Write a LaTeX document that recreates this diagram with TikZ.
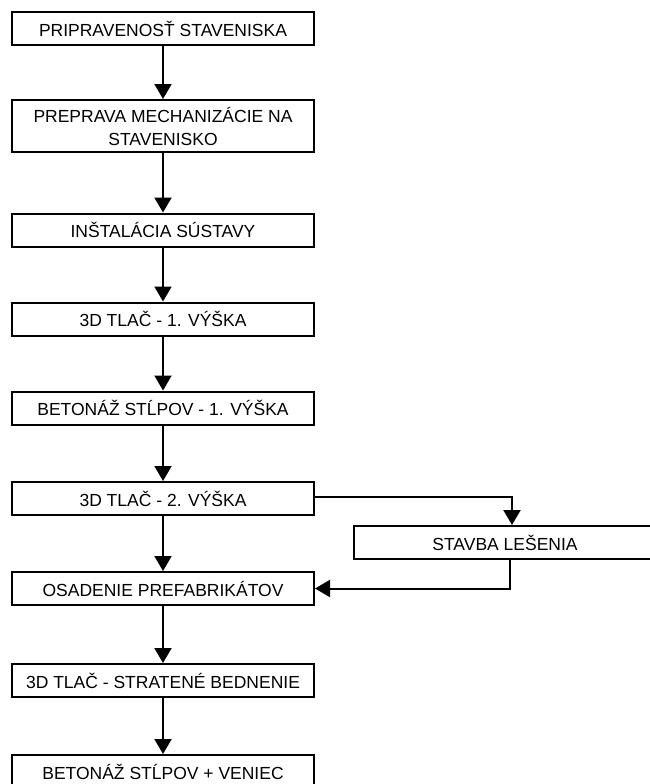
\documentclass[tikz,border=0pt]{standalone}
\usepackage{fontspec}
\setmainfont{Liberation Sans}
\usetikzlibrary{arrows.meta}

\begin{document}
\begin{tikzpicture}[x=1pt, y=-1pt,
	box/.style={draw=black, line width=2pt, fill=white, minimum width=302pt, minimum height=33pt, inner sep=0pt, align=center, font=\fontsize{17.5}{23}\selectfont},
	arr/.style={line width=2pt, -{Triangle[length=15pt, width=17pt]}}]
	\useasboundingbox (0,0) rectangle (649,784);
	\node[box] (pripravenost) at ( 163 , 29 ) {PRIPRAVENOSŤ STAVENISKA};
	\node[box, minimum height=52pt] (preprava) at ( 163 , 126 ) {PREPRAVA MECHANIZÁCIE NA\\STAVENISKO};
	\node[box] (instalacia) at ( 163 , 230 ) {INŠTALÁCIA SÚSTAVY};
	\node[box] (tlac1) at ( 163 , 319 ) {3D TLAČ - 1. VÝŠKA};
	\node[box] (betonaz1) at ( 163 , 408 ) {BETONÁŽ STĹPOV - 1. VÝŠKA};
	\node[box] (tlac2) at ( 163 , 498.5 ) {3D TLAČ - 2. VÝŠKA};
	\node[box] (lesenie) at ( 505 , 542.5 ) {STAVBA LEŠENIA};
	\node[box] (osadenie) at ( 163 , 588.5 ) {OSADENIE PREFABRIKÁTOV};
	\node[box] (tlac3) at ( 163 , 680.5 ) {3D TLAČ - STRATENÉ BEDNENIE};
	\node[box] (veniec) at ( 163 , 771.5 ) {BETONÁŽ STĹPOV + VENIEC};
	
	\draw[arr] (pripravenost) -- (preprava);
	\draw[arr] (preprava) -- (instalacia);
	\draw[arr] (instalacia) -- (tlac1);
	\draw[arr] (tlac1) -- (betonaz1);
	\draw[arr] (betonaz1) -- (tlac2);
	\draw[arr] (tlac2) -- (osadenie);
	\draw[arr] ([yshift=1.5pt]tlac2.east) -| ([xshift=7pt]lesenie.north);
	\draw[arr] ([xshift=5pt]lesenie.south) |- (osadenie.east);
	\draw[arr] (osadenie) -- (tlac3);
	\draw[arr] (tlac3) -- (veniec);
\end{tikzpicture}
\end{document}
